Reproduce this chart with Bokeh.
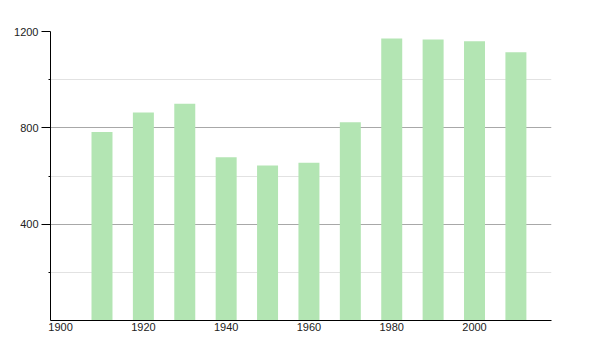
from bokeh.plotting import figure
from bokeh.models import Range1d, FixedTicker
from bokeh.embed import file_html
from bokeh.resources import INLINE

years = [1910, 1920, 1930, 1940, 1950, 1960, 1970, 1980, 1990, 2000, 2010]
population = [783, 864, 900, 678, 644, 655, 823, 1171, 1167, 1159, 1114]
x_ticks = [1900, 1920, 1940, 1960, 1980, 2000]
y_major = [400, 800, 1200]
y_minor = [200, 600, 1000]

p = figure(width=600, height=350, output_backend="svg", toolbar_location=None,
           x_range=Range1d(1897.56, 2018.6), y_range=Range1d(0, 1200),
           min_border_left=50, min_border_right=49, min_border_top=31,
           min_border_bottom=30)
p.outline_line_color = None
p.background_fill_color = "white"
p.border_fill_color = "white"

p.vbar(x=years, top=population, width=5.07, fill_color="#b3e5b3",
       line_color=None)

# x axis
p.xaxis.ticker = FixedTicker(ticks=x_ticks)
p.xaxis.major_tick_line_color = None
p.xaxis.minor_tick_line_color = None
p.xaxis.major_tick_out = 0
p.xaxis.minor_tick_out = 0
p.xaxis.axis_line_color = "black"
p.xaxis.axis_line_width = 1
p.xaxis.major_label_standoff = 2
p.xaxis.major_label_text_font = "Liberation Sans"
p.xaxis.major_label_text_font_size = "11px"
p.xaxis.major_label_text_color = "#222222"
p.xgrid.grid_line_color = None

# y axis
p.yaxis.ticker = FixedTicker(ticks=y_major, minor_ticks=y_minor)
p.yaxis.axis_line_color = "black"
p.yaxis.major_tick_out = 9
p.yaxis.major_tick_in = 0
p.yaxis.minor_tick_out = 2
p.yaxis.minor_tick_in = 0
p.yaxis.major_tick_line_color = "black"
p.yaxis.minor_tick_line_color = "black"
p.yaxis.major_label_standoff = 3
p.yaxis.major_label_text_font = "Liberation Sans"
p.yaxis.major_label_text_font_size = "11px"
p.yaxis.major_label_text_color = "#222222"
p.ygrid.grid_line_color = "#a8a8a8"
p.ygrid.minor_grid_line_color = "#e2e2e2"

open("out.html", "w").write(file_html(p, INLINE))
